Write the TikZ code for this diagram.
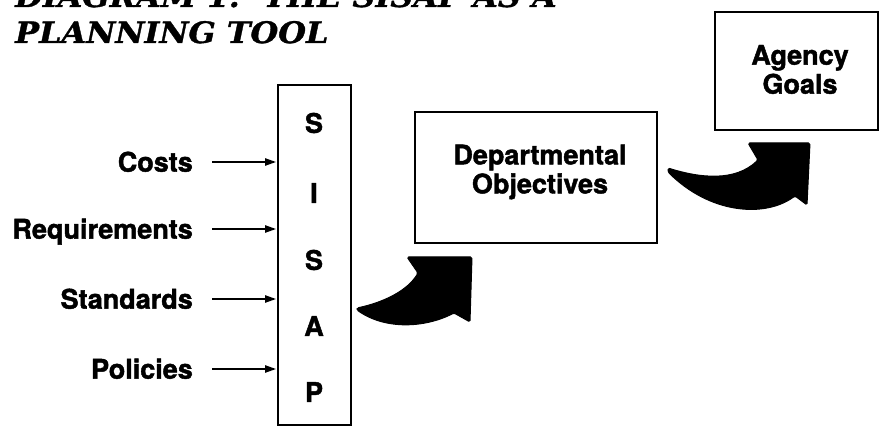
\documentclass[tikz,border=0pt]{standalone}
\usepackage{fontspec}
\setmainfont[BoldFeatures={FakeBold=1.6}]{TeX Gyre Heros}
\newfontfamily\titlefont[BoldItalicFeatures={FakeStretch=1.08, FakeBold=1.2}]{DejaVu Serif}
\usetikzlibrary{arrows.meta}
\tikzset{
  x=1pt, y=-1pt,
  lbl/.style={inner sep=0pt, font=\fontsize{27}{29}\selectfont\bfseries},
  sidelbl/.style={lbl, anchor=east, text height=19.3pt, text depth=0pt},
  boxshape/.style={draw, line width=2.6pt, inner sep=0pt},
  inarrow/.style={line width=2pt, -{Triangle[length=11pt,width=7pt]}, shorten >=0.5pt},
  bigarrow/.style={fill=black, draw=black, line width=1pt, line join=round, rounded corners=1.5pt},
  titlestyle/.style={inner sep=0pt, anchor=base west, font=\titlefont\fontsize{29.5}{36}\selectfont\bfseries\itshape}
}
\begin{document}
\begin{tikzpicture}
\useasboundingbox (0,0) rectangle (881,438);
% title
\node[titlestyle] (title1) at (15,7) {DIAGRAM 1:\ \ THE SISAP AS A};
\node[titlestyle] (title2) at (15,43) {PLANNING TOOL};
% SISAP box
\node[boxshape, minimum width=73pt, minimum height=340pt] (sisap) at (314.5,255) {};
\node[lbl] (s1) at (314,123) {S};
\node[lbl] (i1) at (314,193) {I};
\node[lbl] (s2) at (314,260) {S};
\node[lbl] (a1) at (314,326) {A};
\node[lbl] (p1) at (314,392) {P};
% inputs
\node[sidelbl] (costs) at (193,162) {Costs};
\node[sidelbl] (req) at (193,229) {Requirements};
\node[sidelbl] (std) at (193,299) {Standards};
\node[sidelbl] (pol) at (193,369) {Policies};
\foreach \n in {costs,req,std,pol}{
  \draw[inarrow] ([xshift=19pt]\n.east) -- (\n.east -| sisap.west);
}
% departmental objectives
\node[boxshape, minimum width=242pt, minimum height=131pt] (dept) at (536,177.5) {};
\node[lbl, align=center] (depttext) at (540,172) {Departmental\\Objectives};
% agency goals
\node[boxshape, minimum width=163pt, minimum height=118pt] (agency) at (796.5,71) {};
\node[lbl, align=center] (agencytext) at (800,69.5) {Agency\\Goals};
% curved block arrows
\path[bigarrow] (357,308) .. controls (385,302) and (408,290) .. (418,273)
  -- (407,257) -- (472,257) -- (470,322) -- (454,313)
  .. controls (425,328) and (385,330) .. (357,310) -- cycle;
\path[bigarrow] (668,168) .. controls (700,178) and (735,182) .. (758,160)
  -- (748,143) -- (810,143) -- (807,205) -- (795,196)
  .. controls (765,218) and (710,214) .. (668,172) -- cycle;
\end{tikzpicture}
\end{document}
